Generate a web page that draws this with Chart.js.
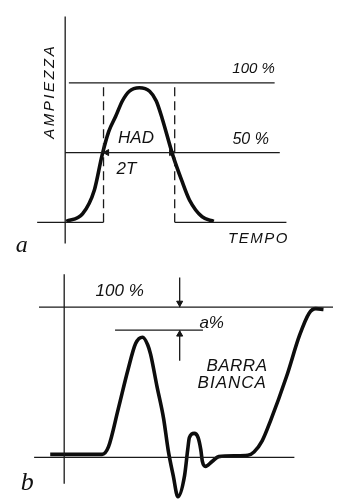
<!DOCTYPE html>
<html>
<head>
<meta charset="utf-8">
<script src="https://cdn.jsdelivr.net/npm/chart.js@4.4.1/dist/chart.umd.min.js"></script>
<style>
  html, body { margin: 0; padding: 0; background: #fff; }
  body { width: 338px; height: 504px; position: relative; overflow: hidden; }
  canvas { position: absolute; left: 0; }
  #graphA { top: 0; }
  #graphB { top: 250px; }
</style>
</head>
<body>
<canvas id="graphA" width="338" height="260"></canvas>
<canvas id="graphB" width="338" height="254"></canvas>
<script>
// --- a: impulso sin^2, tempo in unita' di T, ampiezza in %
var timeA = [0.03, 0.47, 0.79, 1.0, 1.18, 1.37, 1.55, 1.74, 2.01, 2.29, 2.47, 2.63, 2.92, 3.16, 3.37, 3.71, 4.03];
var ampA  = [0.7, 6, 23, 48, 65, 76, 87, 94, 96.5, 94, 87, 74.5, 48, 30, 16, 4, 0.7];
var halfA = [1.04, 2.97];          // punti a meta' ampiezza (2T)
var levelsA = [100, 50];

// --- b: risposta alla barra bianca
var timeB = [-0.36, 0.975, 1.14, 1.39, 1.64, 1.84, 2.02, 2.15, 2.225, 2.39, 2.56, 2.68, 2.81, 2.93, 3.1, 3.18, 3.225, 3.35, 3.45, 3.52, 3.56, 3.64, 3.81, 3.98, 4.4, 4.73, 4.89, 5.1, 5.31, 5.73, 6.06, 6.31, 6.48, 6.68];
var ampB  = [2, 2, 7, 32, 58, 75.8, 80, 75, 68.7, 47.3, 26, 4.7, -12.3, -26.2, -12.3, 4.7, 13.2, 16, 13.2, 5, -2.7, -6, -2.7, 0.5, 1.1, 1.4, 3.6, 11, 24, 54, 81, 96, 99, 98.5];
var overshootB = 84.7;             // livello a%
var markB = 2.975;                 // posizione della quota a%

function pts(xs, ys) {
  return xs.map(function(x, i) { return { x: x, y: ys[i] }; });
}

function seg(x1, y1, x2, y2) {
  return [{ x: x1, y: y1 }, { x: x2, y: y2 }];
}

function thin(data, dash) {
  return {
    data: data,
    borderColor: '#1a1a1a',
    borderWidth: 1.3,
    borderDash: dash || [],
    pointRadius: 0,
    tension: 0,
    spanGaps: false
  };
}

function arrowHeads(data, rotations) {
  return {
    type: 'scatter',
    data: data,
    pointStyle: 'triangle',
    pointRadius: 3.5,
    rotation: rotations,
    backgroundColor: '#111',
    borderColor: '#111',
    borderWidth: 1
  };
}

var textPlugin = {
  id: 'texts',
  afterDatasetsDraw: function(chart) {
    var ctx = chart.ctx;
    var sx = chart.scales.x, sy = chart.scales.y;
    (chart.options.plugins.texts.items || []).forEach(function(t) {
      ctx.save();
      ctx.fillStyle = '#111';
      ctx.font = t.font;
      ctx.letterSpacing = (t.spacing || 0) + 'px';
      ctx.textAlign = 'center';
      ctx.textBaseline = 'middle';
      ctx.translate(sx.getPixelForValue(t.x), sy.getPixelForValue(t.y));
      if (t.rot) ctx.rotate(t.rot);
      ctx.fillText(t.text, 0, 0);
      ctx.restore();
    });
  }
};

function chartSetup(datasets, xr, yr, items) {
  return {
    type: 'line',
    data: { datasets: datasets },
    options: {
      responsive: false,
      animation: false,
      devicePixelRatio: 1,
      layout: { padding: 0 },
      scales: {
        x: { type: 'linear', min: xr[0], max: xr[1], display: false },
        y: { type: 'linear', min: yr[0], max: yr[1], display: false }
      },
      plugins: {
        legend: { display: false },
        tooltip: { enabled: false },
        texts: { items: items }
      }
    },
    plugins: [textPlugin]
  };
}

var hand = 'italic 16px "Liberation Sans", sans-serif';
var hand17 = 'italic 17px "Liberation Sans", sans-serif';

function drawPulse() {
  var context = document.querySelector('#graphA').getContext('2d');
  var datasets = [
    thin(seg(0, 147.6, 0, -15.2)),
    thin([{ x: -0.76, y: 0 }, { x: halfA[0], y: 0 }, { x: 2, y: null }, { x: halfA[1], y: 0 }, { x: 6.0, y: 0 }]),
    thin(seg(0.1, levelsA[0], 5.68, levelsA[0])),
    thin(seg(0, levelsA[1], 5.82, levelsA[1])),
    thin(seg(halfA[0], 0, halfA[0], levelsA[0]), [9, 5]),
    thin(seg(halfA[1], 0, halfA[1], levelsA[0]), [9, 5]),
    arrowHeads([{ x: halfA[0] + 0.09, y: levelsA[1] }, { x: halfA[1] - 0.09, y: levelsA[1] }], [270, 90]),
    {
      data: pts(timeA, ampA),
      borderColor: '#0d0d0d',
      borderWidth: 3.6,
      pointRadius: 0,
      cubicInterpolationMode: 'monotone'
    }
  ];
  var items = [
    { text: '100 %', x: 5.11, y: 110, font: 'italic 15px "Liberation Sans", sans-serif' },
    { text: '50 %', x: 5.03, y: 59, font: hand },
    { text: 'HAD', x: 1.92, y: 60, font: hand17 },
    { text: '2T', x: 1.66, y: 38, font: hand17 },
    { text: 'AMPIEZZA', x: -0.42, y: 94, font: 'italic 15px "Liberation Sans", sans-serif', spacing: 2.5, rot: -Math.PI / 2 },
    { text: 'TEMPO', x: 5.24, y: -12, font: 'italic 15px "Liberation Sans", sans-serif', spacing: 1.5 },
    { text: 'a', x: -1.18, y: -16.5, font: 'italic 24px "Liberation Serif", serif' }
  ];
  new Chart(context, chartSetup(datasets, [-1.632, 7.263], [-23.45, 155.86], items));
}

function drawWhiteBar() {
  var context = document.querySelector('#graphB').getContext('2d');
  var datasets = [
    thin(seg(0, 121.9, 0, -17.6)),
    thin(seg(-0.775, 0, 5.93, 0)),
    thin(seg(-0.65, 100, 6.95, 100)),
    thin(seg(1.31, overshootB, 3.575, overshootB)),
    thin(seg(markB, 119.8, markB, 100)),
    thin(seg(markB, overshootB, markB, 64.4)),
    arrowHeads([{ x: markB, y: 102.8 }, { x: markB, y: overshootB - 2.8 }], [180, 0]),
    {
      data: pts(timeB, ampB),
      borderColor: '#0d0d0d',
      borderWidth: 3.6,
      pointRadius: 0,
      cubicInterpolationMode: 'monotone'
    }
  ];
  var items = [
    { text: '100 %', x: 1.43, y: 110.9, font: hand17 },
    { text: 'a%', x: 3.80, y: 89.3, font: hand17 },
    { text: 'BARRA', x: 4.45, y: 60.5, font: hand17, spacing: 0.5 },
    { text: 'BIANCA', x: 4.33, y: 49.6, font: hand17, spacing: 1 },
    { text: 'b', x: -0.95, y: -17, font: 'italic 26px "Liberation Serif", serif' }
  ];
  new Chart(context, chartSetup(datasets, [-1.525, 6.925], [-27.69, 134.72], items));
}

drawPulse();
drawWhiteBar();
</script>
</body>
</html>
